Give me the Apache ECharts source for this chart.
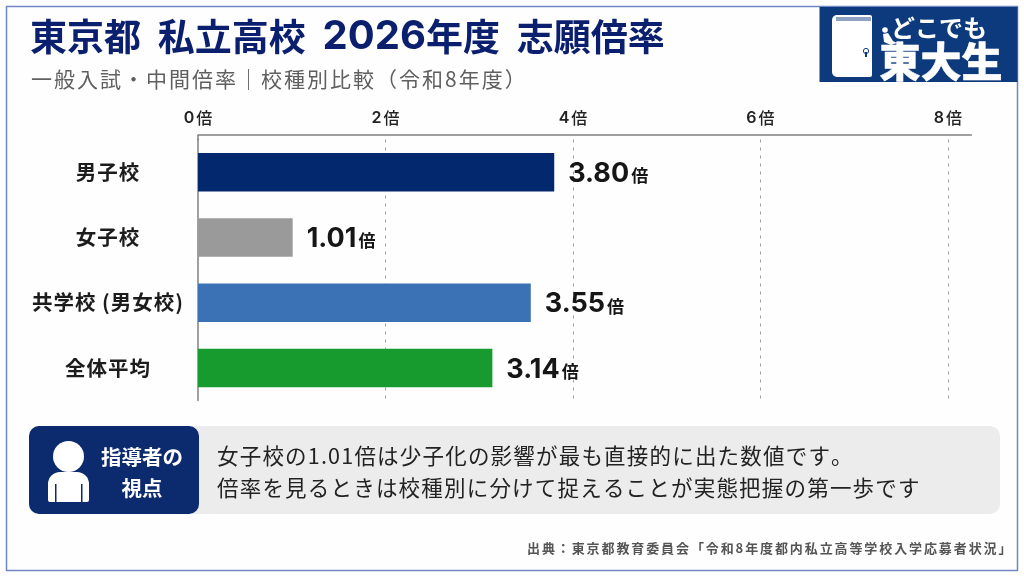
<!DOCTYPE html>
<html lang="ja">
<head>
<meta charset="utf-8">
<title>東京都 私立高校 2026年度 志願倍率</title>
<style>
  html, body { margin: 0; padding: 0; background: #fff; }
  #chart { width: 1024px; height: 576px; }
</style>
<script src="https://cdn.jsdelivr.net/npm/echarts@6/dist/echarts.min.js"></script>
</head>
<body>
<div id="chart"></div>
<script>
// 校種別の志願倍率
const categories = ['男子校', '女子校', '共学校 (男女校)', '全体平均'];
const ratios = [3.80, 1.01, 3.55, 3.14];
const barColors = ['#03286e', '#9a9a9a', '#3a72b5', '#179a2e'];
const unit = '倍';

// 見出しと本文
const subtitleText = '一般入試・中間倍率｜校種別比較（令和8年度）';
const viewpointHead = ['指導者の', '視点'];
const viewpointBody = [
  '女子校の1.01倍は少子化の影響が最も直接的に出た数値です。',
  '倍率を見るときは校種別に分けて捉えることが実態把握の第一歩です'
];
const sourceText = '出典：東京都教育委員会「令和8年度都内私立高等学校入学応募者状況」';
const logoLines = ['どこでも', '東大生'];

const FONT = 'Inter, "Noto Sans CJK JP", sans-serif';
const JP = '"Noto Sans CJK JP", sans-serif';
const NAVY = '#0c2a6e';

function text(x, y, str, size, weight, fill, align, extra) {
  return {
    type: 'text', x, y, silent: true,
    style: Object.assign({
      text: str, fontSize: size, fontWeight: weight, fontFamily: FONT,
      fill, align: align || 'left', verticalAlign: 'middle'
    }, extra || {})
  };
}

// 一文字ずつリッチテキストの断片に分ける
const toTokens = str => Array.from(str).map(c => `{t|${c}}`).join('');

// 字間を広げて描く
function spaced(x, y, str, size, weight, fill, gap) {
  return text(x, y, toTokens(str), size, weight, fill, 'left', {
    fontFamily: JP,
    rich: { t: { fontSize: size, fontWeight: weight, fontFamily: JP, fill, padding: [0, gap, 0, 0] } }
  });
}

const chart = echarts.init(document.getElementById('chart'));

chart.setOption({
  animation: false,
  backgroundColor: '#ffffff',
  grid: { left: 198, top: 139.5, width: 773.4, height: 261 },
  xAxis: {
    type: 'value', position: 'top', offset: 4.5,
    min: 0, max: 8.25, interval: 2,
    axisLine: { show: true, lineStyle: { color: '#808080', width: 1.5 } },
    axisTick: { show: false },
    axisLabel: {
      showMaxLabel: false, margin: 9,
      formatter: v => `{n|${v}}{u|${unit}}`,
      rich: {
        n: { fontSize: 16, fontWeight: 600, color: '#222', fontFamily: FONT, padding: [0, 2, 0, 0] },
        u: { fontSize: 16, fontWeight: 500, color: '#222', fontFamily: JP }
      }
    },
    splitLine: {
      show: true, showMinLine: false, showMaxLine: false,
      lineStyle: { color: '#a0a0a0', type: [3, 5], width: 1 }
    }
  },
  yAxis: {
    type: 'category', inverse: true, data: categories,
    axisLine: { show: true, onZero: false, lineStyle: { color: '#808080', width: 1.5 } },
    axisTick: { show: false },
    axisLabel: {
      align: 'center', margin: 90,
      formatter: toTokens,
      rich: { t: { fontSize: 20.5, fontWeight: 700, color: '#1c1c1c', fontFamily: JP, padding: [0, 1, 0, 0] } }
    }
  },
  series: [{
    type: 'bar',
    barWidth: 38.5,
    z: 3,
    data: ratios.map((v, i) => ({ value: v, itemStyle: { color: barColors[i] } })),
    label: {
      show: true, position: 'right', distance: 14,
      formatter: p => `{n|${p.value.toFixed(2)}}{u|${unit}}`,
      rich: {
        n: { fontSize: 27, fontWeight: 700, color: '#161616', fontFamily: FONT, padding: [3, 0, 0, 0] },
        u: { fontSize: 17, fontWeight: 700, color: '#161616', fontFamily: JP, padding: [7, 0, 0, 2] }
      }
    }
  }],
  graphic: { elements: [
    // 外枠
    { type: 'rect', z: -10, silent: true, shape: { x: 6.5, y: 6.5, width: 1011, height: 564 },
      style: { fill: '#fefefe', stroke: '#7187c6', lineWidth: 1.5 } },

    // 見出し
    text(30, 37, '{c|東京都}{c|  私立高校}{c|  }{n|2026}{c|年度}{c|  志願倍率}', 37, 700, '#0b1f6f', 'left', {
      rich: {
        c: { fontSize: 37, fontWeight: 700, fontFamily: JP, fill: '#0b1f6f' },
        n: { fontSize: 40, fontWeight: 700, fontFamily: 'Inter, sans-serif', fill: '#0b1f6f' }
      }
    }),
    spaced(31, 79, subtitleText, 21, 400, '#5f5f5f', 2),

    // 縦軸線の上端を横軸線までつなぐ
    { type: 'line', silent: true, shape: { x1: 198, y1: 135, x2: 198, y2: 140 },
      style: { stroke: '#808080', lineWidth: 1.5 } },

    // ロゴ
    { type: 'rect', silent: true, shape: { x: 819.5, y: 7, width: 198, height: 75 }, style: { fill: '#0d3a7c' } },
    { type: 'rect', silent: true, shape: { x: 832, y: 15, width: 40, height: 62, r: [5, 2, 2, 5] }, style: { fill: '#ffffff' } },
    { type: 'rect', silent: true, shape: { x: 836, y: 17, width: 35, height: 4 }, style: { fill: '#8ea3c4' } },
    { type: 'circle', silent: true, shape: { cx: 866, cy: 51, r: 2.6 }, style: { fill: '#ffffff', stroke: '#0d3a7c', lineWidth: 1 } },
    { type: 'rect', silent: true, shape: { x: 865, y: 52, width: 2, height: 5 }, style: { fill: '#0d3a7c' } },
    { type: 'circle', silent: true, shape: { cx: 885, cy: 30, r: 2.8 }, style: { fill: '#ffffff' } },
    { type: 'polygon', silent: true, shape: { points: [[883, 34], [888, 33], [893, 41], [897, 43], [891, 45], [884, 42]] }, style: { fill: '#ffffff' } },
    text(939, 28, logoLines[0], 24, 700, '#ffffff', 'center', { fontFamily: JP }),
    text(941, 61, logoLines[1], 41, 900, '#ffffff', 'center', { fontFamily: JP, stroke: '#ffffff', lineWidth: 0.5 }),

    // 指導者の視点
    { type: 'rect', silent: true, shape: { x: 29, y: 426, width: 971, height: 88, r: 10 }, style: { fill: '#ececec' } },
    { type: 'rect', silent: true, shape: { x: 29, y: 426, width: 170, height: 88, r: 10 }, style: { fill: NAVY } },
    { type: 'circle', silent: true, shape: { cx: 68.5, cy: 456.5, r: 15.5 }, style: { fill: '#ffffff' } },
    { type: 'rect', silent: true, shape: { x: 48, y: 472, width: 41, height: 30, r: [12, 12, 2, 2] }, style: { fill: '#ffffff' } },
    { type: 'rect', silent: true, shape: { x: 55, y: 484, width: 1.5, height: 18 }, style: { fill: NAVY } },
    { type: 'rect', silent: true, shape: { x: 81, y: 484, width: 1.5, height: 18 }, style: { fill: NAVY } },
    text(142, 457, viewpointHead[0], 20.5, 700, '#ffffff', 'center', { fontFamily: JP }),
    text(142, 488, viewpointHead[1], 20.5, 700, '#ffffff', 'center', { fontFamily: JP }),
    spaced(217, 456, viewpointBody[0], 21.5, 400, '#222222', 1.2),
    spaced(217, 488, viewpointBody[1], 21.5, 400, '#222222', 1.2),

    // 出典
    spaced(527, 548, sourceText, 13, 700, '#555555', 1.9)
  ] }
});
</script>
</body>
</html>
